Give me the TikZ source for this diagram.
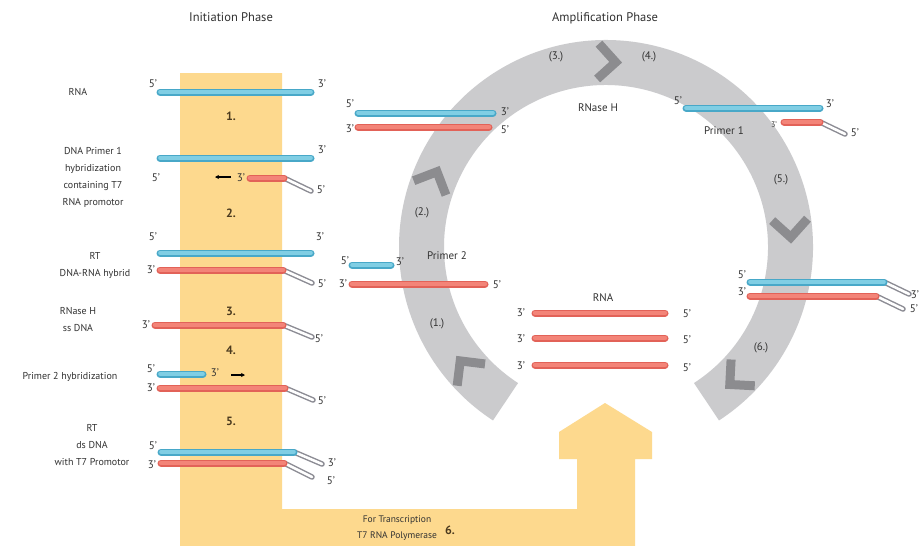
\documentclass[tikz,border=0pt]{standalone}
\usepackage{fontspec}
\setmainfont{PT Sans}
\usetikzlibrary{arrows.meta}
\definecolor{orangeband}{RGB}{253,217,142}
\definecolor{ringgray}{RGB}{203,203,205}
\definecolor{chevgray}{RGB}{140,140,143}
\definecolor{blueout}{RGB}{72,168,200}
\definecolor{bluein}{RGB}{128,206,228}
\definecolor{redout}{RGB}{226,98,88}
\definecolor{redin}{RGB}{243,132,120}
\definecolor{tailgray}{RGB}{140,140,148}
\definecolor{txt}{RGB}{50,50,50}
\definecolor{numtxt}{RGB}{75,58,30}
\newcommand{\bstrand}[3]{%
  \draw[blueout, line width=7pt, line cap=round] (#1,-#3) -- (#2,-#3);
  \draw[bluein, line width=3.6pt, line cap=round] (#1,-#3) -- (#2,-#3);}
\newcommand{\rstrand}[3]{%
  \draw[redout, line width=7pt, line cap=round] (#1,-#3) -- (#2,-#3);
  \draw[redin, line width=4.4pt, line cap=round] (#1,-#3) -- (#2,-#3);}
\newcommand{\ptail}[4]{%
  \draw[tailgray, line width=5.5pt, line cap=round] (#1,-#2) -- (#3,-#4);
  \draw[white, line width=2.6pt, line cap=round] (#1,-#2) -- (#3,-#4);}
\newcommand{\chev}[1]{%
  \draw[chevgray, line width=9pt, line join=miter] (#1:185) ++(#1+45:25) -- (#1:185) -- ++(#1+135:25);}
\begin{document}
\begin{tikzpicture}[x=1pt,y=1pt,
  lbl/.style={font=\fontsize{10}{17}\selectfont, text=txt, align=center, inner sep=0pt},
  endl/.style={font=\fontsize{11}{12}\selectfont, text=txt, inner sep=0pt},
  smallend/.style={font=\fontsize{8}{9}\selectfont, text=txt, inner sep=0pt},
  title/.style={font=\fontsize{12.5}{14}\selectfont, text=txt, inner sep=0pt},
  stepnum/.style={font=\fontsize{12}{14}\selectfont\bfseries, text=numtxt, inner sep=0pt},
  ringnum/.style={font=\fontsize{11}{12}\selectfont, text=txt, inner sep=0pt},
  smallarrow/.style={-{Stealth[length=4pt,width=4pt]}, line width=1.2pt, black}]
\useasboundingbox (0,0) rectangle (921,-546);
\fill[white] (0,0) rectangle (921,-546);

% orange band with arrow
\fill[orangeband] (180,-73) -- (282,-73) -- (282,-509) -- (577,-509) -- (577,-459)
  -- (559,-459) -- (559,-432) -- (605,-403) -- (652,-432) -- (652,-459) -- (635,-459)
  -- (635,-546) -- (180,-546) -- cycle;

% amplification ring
\begin{scope}[shift={(606,-247)}]
  \draw[ringgray, line width=45pt] (-57:184.5) arc[start angle=-57, end angle=237, radius=184.5];
  \chev{87}
  \chev{156}
  \chev{3}
  \chev{-48}
  \chev{-142}
\end{scope}

% titles
\node[title] (tinit) at (231,-17) {Initiation Phase};
\node[title] (tamp) at (605,-18) {Amplification Phase};

% left labels
\node[lbl] (l1) at (78,-92) {RNA};
\node[lbl, anchor=north] (l2) at (93,-147) {DNA Primer 1\\hybridization\\containing T7\\RNA promotor};
\node[lbl, anchor=north] (l3) at (95,-252) {RT\\DNA-RNA hybrid};
\node[lbl, anchor=north] (l4) at (78,-307) {RNase H\\ss DNA};
\node[lbl] (l5) at (70,-377) {Primer 2 hybridization};
\node[lbl, anchor=north] (l6) at (92,-424) {RT\\ds DNA\\with T7 Promotor};

% step numbers
\node[stepnum] (s1) at (231,-116) {1.};
\node[stepnum] (s2) at (231,-213) {2.};
\node[stepnum] (s3) at (231,-311) {3.};
\node[stepnum] (s4) at (231,-350) {4.};
\node[stepnum] (s5) at (231,-421) {5.};
\node[stepnum] (s6) at (450,-530) {6.};
\node[lbl, font=\fontsize{9.5}{16}\selectfont, anchor=north] (pol) at (397,-516) {For Transcription\\T7 RNA Polymerase};

% ---- left column strands ----
% row 1
\bstrand{160}{311}{92}
\node[endl] (r1a) at (153,-84) {5'};
\node[endl] (r1b) at (322,-84) {3'};
% row 2
\bstrand{160}{311}{158}
\node[endl] (r2a) at (322,-150) {3'};
\node[endl] (r2b) at (156,-178) {5'};
\ptail{284}{178}{311}{191}
\rstrand{250}{284}{178}
\node[endl] (r2c) at (241,-178) {3'};
\node[endl] (r2d) at (321,-190) {5'};
\coordinate (a1s) at (231,-177);
\coordinate (a1e) at (215,-177);
\draw[smallarrow] (a1s) -- (a1e);
% row 3
\bstrand{160}{311}{253}
\node[endl] (r3a) at (153,-237) {5'};
\node[endl] (r3b) at (320,-237) {3'};
\ptail{283}{270}{312}{283}
\rstrand{160}{283}{270}
\node[endl] (r3c) at (151,-270) {3'};
\node[endl] (r3d) at (322,-284) {5'};
% row 4
\ptail{283}{325}{312}{337}
\rstrand{155}{283}{325}
\node[endl] (r4a) at (146,-325) {3'};
\node[endl] (r4b) at (319,-339) {5'};
% row 5
\bstrand{160}{203}{374}
\node[endl] (r5a) at (151,-369) {5'};
\node[endl] (r5b) at (215,-373) {3'};
\coordinate (a2s) at (231,-375);
\coordinate (a2e) at (245,-375);
\draw[smallarrow] (a2s) -- (a2e);
\ptail{285}{388}{313}{400}
\rstrand{160}{285}{388}
\node[endl] (r5c) at (151,-388) {3'};
\node[endl] (r5d) at (322,-401) {5'};
% row 6
\ptail{294}{452}{322}{464}
\bstrand{161}{294}{452}
\node[endl] (r6a) at (153,-446) {5'};
\node[endl] (r6b) at (332,-463) {3'};
\ptail{284}{463}{312}{477}
\rstrand{161}{284}{463}
\node[endl] (r6c) at (152,-465) {3'};
\node[endl] (r6d) at (331,-481) {5'};

% ---- ring strands ----
\bstrand{358}{493}{113}
\node[endl] (t1) at (350,-104) {5'};
\node[endl] (t2) at (505,-112) {3'};
\rstrand{358}{489}{127}
\node[endl] (t3) at (350,-129) {3'};
\node[endl] (t4) at (505,-130) {5'};
\node[ringnum] (rnh) at (598,-108) {RNase H};

\bstrand{686}{820}{108}
\node[endl] (u1) at (678,-101) {5'};
\node[endl] (u2) at (830,-104) {3'};
\ptail{820}{122}{845}{134}
\rstrand{784}{820}{122}
\node[smallend] (u3) at (774,-125) {3'};
\node[endl] (u4) at (855,-133) {5'};
\node[ringnum] (p1) at (724,-131) {Primer 1};

\bstrand{352}{391}{265}
\node[endl] (v1) at (345,-261) {5'};
\node[endl] (v2) at (400,-262) {3'};
\rstrand{352}{485}{284}
\node[endl] (v3) at (343,-284) {3'};
\node[endl] (v4) at (497,-285) {5'};
\node[ringnum] (p2) at (447,-256) {Primer 2};

\node[ringnum] (rna2) at (603,-298) {RNA};
\rstrand{535}{665}{313}
\rstrand{535}{665}{338}
\rstrand{535}{665}{365}
\node[endl] (w1) at (521,-313) {3'};
\node[endl] (w2) at (521,-339) {3'};
\node[endl] (w3) at (521,-366) {3'};
\node[endl] (w4) at (687,-314) {5'};
\node[endl] (w5) at (687,-340) {5'};
\node[endl] (w6) at (687,-368) {5'};

\ptail{884}{282}{909}{294}
\bstrand{750}{884}{282}
\node[endl] (x1) at (742,-275) {5'};
\node[endl] (x2) at (915,-295) {3'};
\ptail{876}{296}{903}{309}
\rstrand{750}{876}{296}
\node[endl] (x3) at (742,-292) {3'};
\node[endl] (x4) at (914,-309) {5'};

% ring step labels
\node[ringnum] (c3) at (556,-57) {(3.)};
\node[ringnum] (c4) at (649,-57) {(4.)};
\node[ringnum] (c5) at (781,-180) {(5.)};
\node[ringnum] (c2) at (422,-213) {(2.)};
\node[ringnum] (c1) at (437,-324) {(1.)};
\node[ringnum] (c6) at (761,-348) {(6.)};
\end{tikzpicture}
\end{document}
